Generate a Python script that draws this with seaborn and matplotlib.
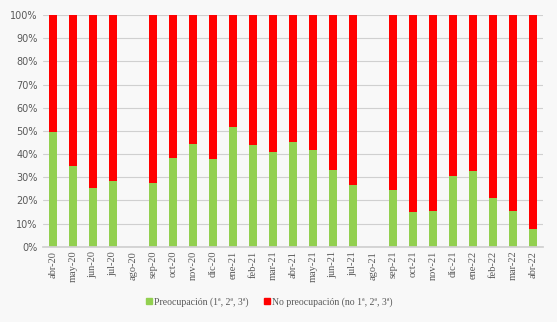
import numpy as np
import pandas as pd
import matplotlib
matplotlib.use("Agg")
import matplotlib.pyplot as plt
import seaborn as sns
from matplotlib.patches import Patch
from matplotlib.ticker import PercentFormatter

months = ["abr-20", "may-20", "jun-20", "jul-20", "ago-20", "sep-20", "oct-20", "nov-20",
          "dic-20", "ene-21", "feb-21", "mar-21", "abr-21", "may-21", "jun-21", "jul-21",
          "ago-21", "sep-21", "oct-21", "nov-21", "dic-21", "ene-22", "feb-22", "mar-22", "abr-22"]
preocupacion = [49.4, 34.9, 25.3, 28.3, np.nan, 27.4, 38.2, 44.3, 37.8, 51.6, 43.8, 40.8,
                45.1, 41.7, 33.0, 26.6, np.nan, 24.4, 15.1, 15.5, 30.5, 32.6, 21.0, 15.4, 7.6]
no_preocupacion = [np.nan if np.isnan(p) else round(100 - p, 1) for p in preocupacion]

label_g = "Preocupación (1ª, 2ª, 3ª)"
label_r = "No preocupación (no 1ª, 2ª, 3ª)"
green = "#92D050"
red = "#FF0000"

df = pd.DataFrame({"mes": months, "g": preocupacion, "r": no_preocupacion})
df["total"] = df["g"] + df["r"]

sns.set_theme(style="white")
plt.rcParams["font.family"] = ["Liberation Serif", "DejaVu Serif"]
bg = "#f8f8f8"
fig = plt.figure(figsize=(5.57, 3.22), dpi=100, facecolor=bg)
ax = fig.add_axes([43 / 557, 1 - 246.7 / 322, 500 / 557, 231.7 / 322])
ax.set_facecolor(bg)

sns.barplot(data=df, x="mes", y="total", color=red, width=0.4, ax=ax, saturation=1,
            order=months, linewidth=0)
sns.barplot(data=df, x="mes", y="g", color=green, width=0.4, ax=ax, saturation=1,
            order=months, linewidth=0)

ax.set_ylim(0, 100)
ax.set_xlim(-0.5, len(months) - 0.5)
ax.set_yticks(np.arange(0, 101, 10))
ax.yaxis.set_major_formatter(PercentFormatter(decimals=0))
ax.grid(axis="y", color="#d0d0d0", linewidth=0.8)
ax.set_axisbelow(True)
for s in ["top", "right", "left"]:
    ax.spines[s].set_visible(False)
ax.spines["bottom"].set_color("#d0d0d0")
ax.set_xlabel("")
ax.set_ylabel("")
ax.tick_params(axis="x", rotation=90, labelsize=7.5, colors="#595959", length=0, pad=3)
ax.tick_params(axis="y", labelsize=7.5, colors="#595959", length=0, pad=4)
for t in ax.get_yticklabels():
    t.set_family(["DejaVu Sans"])
    t.set_fontsize(7)

handles = [Patch(color=green, label=label_g), Patch(color=red, label=label_r)]
fig.legend(handles=handles, loc="center", bbox_to_anchor=(0.483, 1 - 302 / 322), ncol=2,
           frameon=False, fontsize=7, handlelength=0.6, handleheight=0.6,
           handletextpad=0.2, columnspacing=1.6, labelcolor="#595959")

fig.savefig("out.png", dpi=100, facecolor=bg)
